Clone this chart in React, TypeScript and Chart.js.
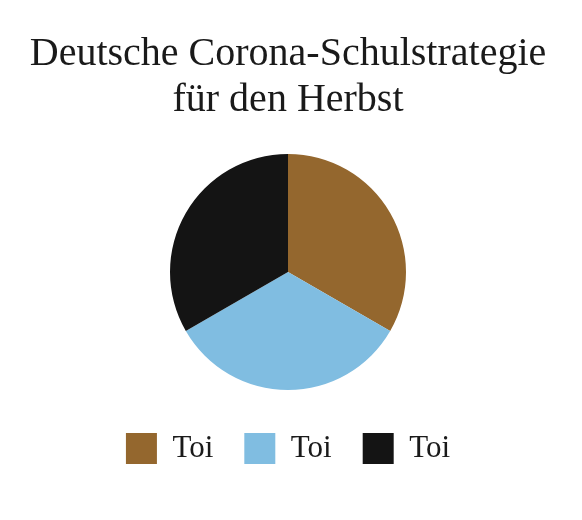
import { useEffect, useRef } from "react";
import Chart from "chart.js/auto";

const titleLines = ["Deutsche Corona-Schulstrategie", "für den Herbst"];
const categories = ["Toi", "Toi", "Toi"];
const shares = [1, 1, 1];
const sliceColors = ["#94672e", "#80bde1", "#141414"];

const App = () => {
  const canvasRef = useRef<HTMLCanvasElement | null>(null);

  useEffect(() => {
    let chart: Chart | null = null;
    if (canvasRef.current) {
      const ctx = canvasRef.current.getContext("2d");
      if (ctx) {
        chart = new Chart(ctx, {
          type: "pie",
          data: {
            labels: categories,
            datasets: [
              {
                data: shares,
                backgroundColor: sliceColors,
                borderWidth: 0,
                radius: 118,
              },
            ],
          },
          options: {
            responsive: false,
            animation: false,
            layout: {
              padding: { top: 0, left: 0, right: 6, bottom: 46 },
            },
            plugins: {
              title: {
                display: true,
                text: titleLines,
                color: "#1a1a1a",
                font: { family: "'Liberation Serif', serif", size: 40, weight: "normal", lineHeight: 1.15 },
                padding: { top: 31, bottom: 19 },
              },
              legend: {
                position: "bottom",
                labels: {
                  color: "#1a1a1a",
                  font: { family: "'Liberation Serif', serif", size: 31 },
                  boxWidth: 31,
                  boxHeight: 31,
                  padding: 31,
                },
              },
              tooltip: { enabled: false },
            },
          },
        });
      }
    }
    return () => {
      chart?.destroy();
    };
  }, []);

  return (
    <div style={{ position: "absolute", top: 0, left: 0, width: 582, height: 520, background: "#fff" }}>
      <canvas ref={canvasRef} width={582} height={520} />
    </div>
  );
};

export default App;
